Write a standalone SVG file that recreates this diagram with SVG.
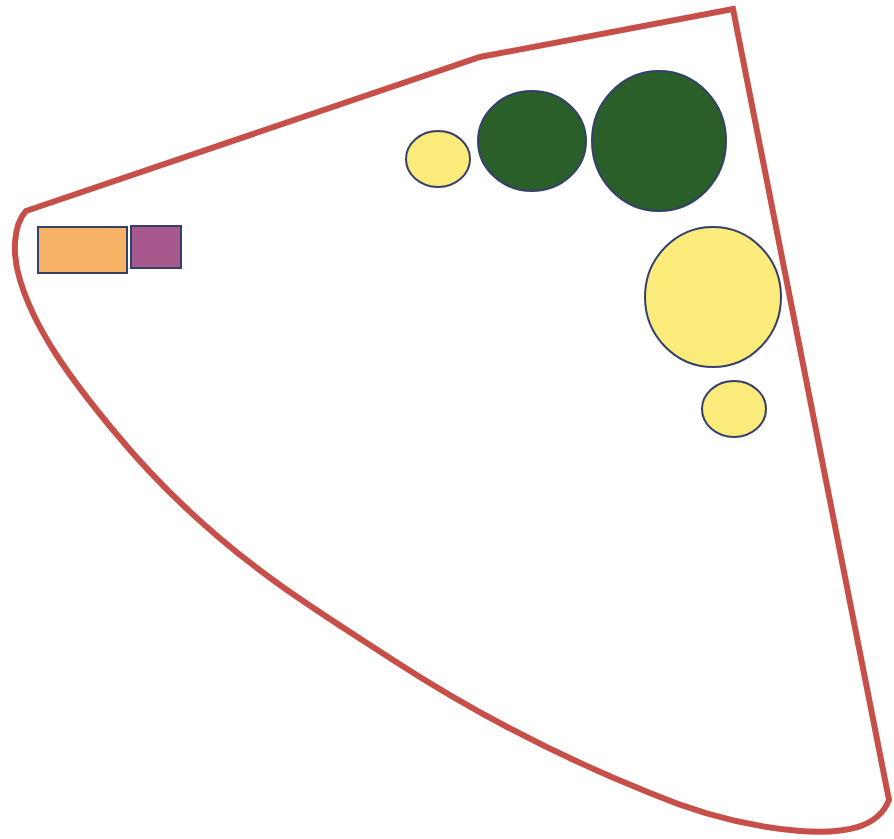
<svg xmlns="http://www.w3.org/2000/svg" width="894" height="839" viewBox="0 0 894 839">
<style>
.outline{fill:none;stroke:#C65049;stroke-width:6;stroke-linejoin:miter}
.node{stroke:#34406A;stroke-width:2}
.yellow{fill:#FBEB7A}
.green{fill:#2B5F2A}
.orange{fill:#F6B366}
.purple{fill:#A7588D}
</style>
<rect width="894" height="839" fill="#ffffff"/>
<path id="boundary" class="outline" d="M 26,211 L 480,57 L 733,9 L 889,800 C 878,828 845,834 800,831 C 740,826 690,810 650,793 C 560,757 470,710 393,660 C 350,632 310,607 273,580 C 200,527 150,475 113,430 C 70,378 35,330 20,280 C 12,255 13,225 26,211 Z"/>
<g id="rect-orange"><rect class="node orange" x="38" y="227" width="89" height="46"/></g>
<g id="rect-purple"><rect class="node purple" x="131" y="226" width="50" height="42"/></g>
<g id="circle-yellow-1"><ellipse class="node yellow" cx="438" cy="159" rx="32" ry="28"/></g>
<g id="circle-green-1"><ellipse class="node green" cx="532" cy="141" rx="54" ry="50"/></g>
<g id="circle-green-2"><ellipse class="node green" cx="659" cy="141" rx="67" ry="70"/></g>
<g id="circle-yellow-2"><ellipse class="node yellow" cx="713" cy="297" rx="68" ry="70"/></g>
<g id="circle-yellow-3"><ellipse class="node yellow" cx="734" cy="409" rx="32" ry="28"/></g>
<g id="connectors"></g>
</svg>
